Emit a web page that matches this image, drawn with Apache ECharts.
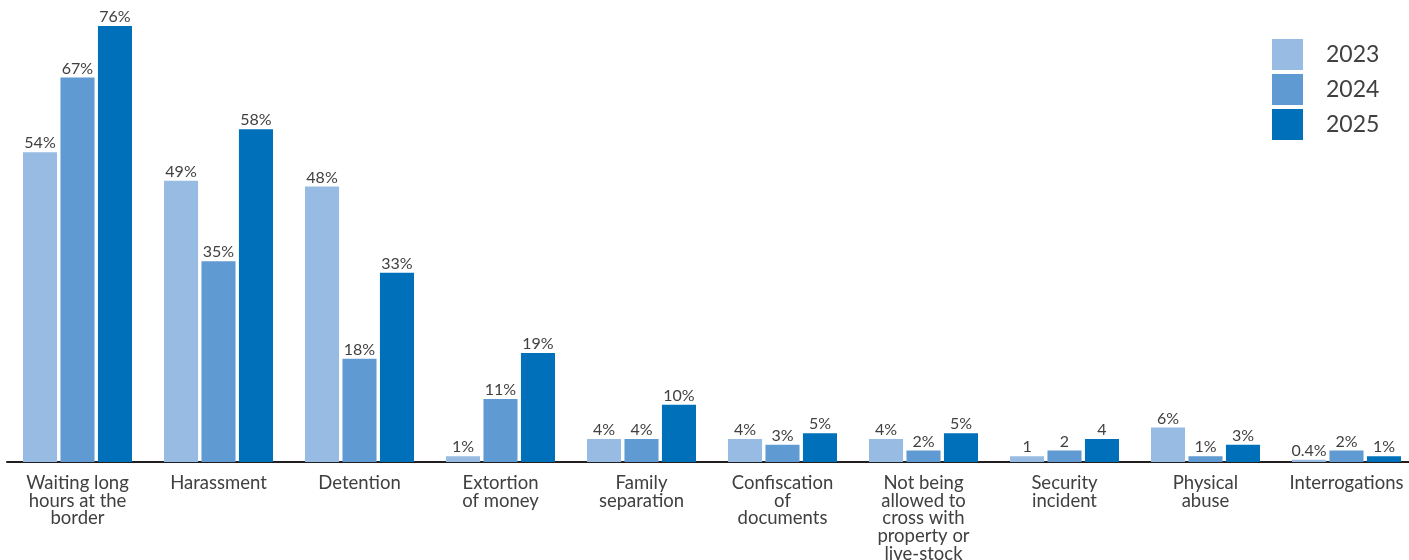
<!DOCTYPE html>
<html>
<head>
<meta charset="utf-8">
<script src="https://cdn.jsdelivr.net/npm/echarts@6/dist/echarts.min.js"></script>
<style>
html,body{margin:0;padding:0;background:#fff;}
#chart{width:1409px;height:560px;}
</style>
</head>
<body>
<div id="chart"></div>
<script>
const categories = [
  'Waiting long\nhours at the\nborder',
  'Harassment',
  'Detention',
  'Extortion\nof money',
  'Family\nseparation',
  'Confiscation\nof\ndocuments',
  'Not being\nallowed to\ncross with\nproperty or\nlive-stock',
  'Security\nincident',
  'Physical\nabuse',
  'Interrogations'
];
const seriesNames = ['2023', '2024', '2025'];
const values2023 = [54, 49, 48, 1, 4, 4, 4, 1, 6, 0.4];
const values2024 = [67, 35, 18, 11, 4, 3, 2, 2, 1, 2];
const values2025 = [76, 58, 33, 19, 10, 5, 5, 4, 3, 1];
// label suffix per category ('' where the source shows a bare number)
const labelSuffix = ['%', '%', '%', '%', '%', '%', '%', '', '%', '%'];
const colors = ['#97BBE2', '#5F9AD2', '#0070BB'];

const chart = echarts.init(document.getElementById('chart'));
const allValues = [values2023, values2024, values2025];
const fontFamily = 'Lato, "Open Sans", sans-serif';

chart.setOption({
  animation: false,
  textStyle: { fontFamily: fontFamily },
  grid: { left: 7, width: 1410, top: 3, bottom: 98, containLabel: false, outerBoundsMode: 'none' },
  legend: {
    orient: 'vertical',
    left: 1267,
    top: 34,
    itemWidth: 31,
    itemHeight: 31,
    itemGap: 4,
    icon: 'rect',
    textStyle: { fontSize: 23, color: '#404040', fontFamily: fontFamily, padding: [0, 0, 0, 18] },
    data: seriesNames
  },
  xAxis: {
    type: 'category',
    data: categories,
    axisLine: { show: true, lineStyle: { color: '#231F20', width: 2 } },
    axisTick: { show: false },
    axisLabel: {
      interval: 0,
      margin: 12,
      fontSize: 18.5,
      lineHeight: 17.8,
      color: '#404040',
      fontFamily: fontFamily
    }
  },
  yAxis: {
    type: 'value',
    min: 0,
    max: 80,
    show: false,
    splitLine: { show: false }
  },
  series: seriesNames.map((name, si) => ({
    name: name,
    type: 'bar',
    data: allValues[si],
    barGap: '10%',
    barCategoryGap: '22.7%',
    itemStyle: { color: colors[si] },
    label: {
      show: true,
      position: 'top',
      distance: 1,
      fontSize: 16,
      color: '#404040',
      fontFamily: fontFamily,
      formatter: p => p.value + labelSuffix[p.dataIndex]
    }
  }))
});
</script>
</body>
</html>
